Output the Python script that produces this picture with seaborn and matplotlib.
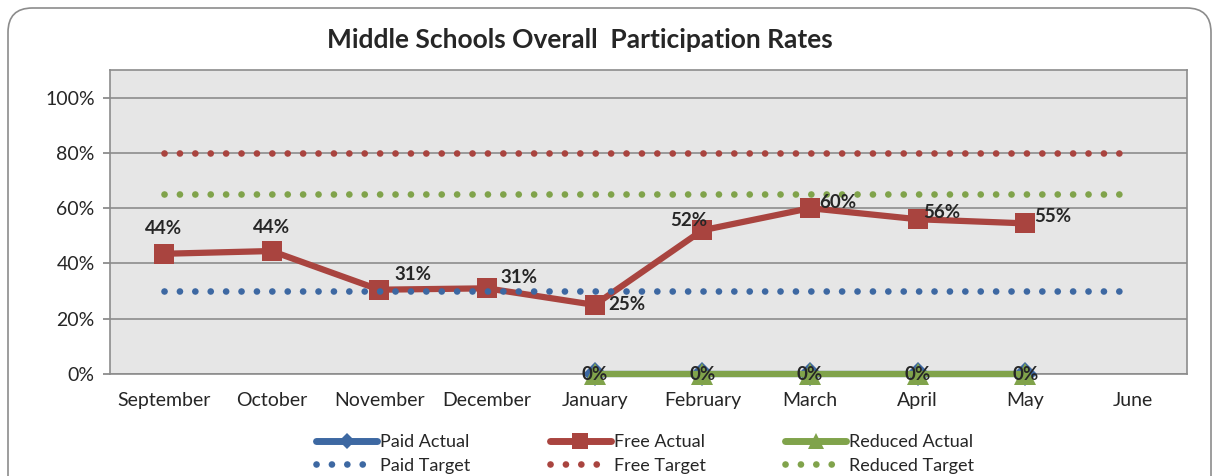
import numpy as np
import pandas as pd
import seaborn as sns
import matplotlib.pyplot as plt
from matplotlib.patches import FancyBboxPatch
from matplotlib.lines import Line2D

months = ["September", "October", "November", "December", "January",
          "February", "March", "April", "May", "June"]
free_actual = [0.435, 0.445, 0.305, 0.31, 0.25, 0.52, 0.60, 0.56, 0.545, np.nan]
free_labels = ["44%", "44%", "31%", "31%", "25%", "52%", "60%", "56%", "55%", None]
paid_actual = [np.nan, np.nan, np.nan, np.nan, 0, 0, 0, 0, 0, np.nan]
reduced_actual = [np.nan, np.nan, np.nan, np.nan, 0, 0, 0, 0, 0, np.nan]
paid_target = [0.30] * 10
free_target = [0.80] * 10
reduced_target = [0.65] * 10

# label offsets in points (styling only)
free_offsets = [(0, 18), (0, 17), (24, 11), (23, 8), (23, 0), (-10, 7),
                (20, 4), (17, 5), (20, 5), None]

BLUE = "#3D68A2"
RED = "#A9443F"
GREEN = "#80A34B"
FONT = ["Lato", "DejaVu Sans"]

sns.set_theme(style="white")
plt.rcParams["font.family"] = FONT

fig = plt.figure(figsize=(12.17, 4.76), dpi=100)
ax = fig.add_axes([110 / 1217, 1 - 374 / 476, (1187 - 110) / 1217, (374 - 70) / 476])
ax.set_facecolor("#E6E6E6")

x = np.arange(len(months))
df = pd.DataFrame({"x": x, "paid_actual": paid_actual, "free_actual": free_actual,
                   "reduced_actual": reduced_actual, "paid_target": paid_target,
                   "free_target": free_target, "reduced_target": reduced_target})

sns.lineplot(data=df, x="x", y="paid_actual", ax=ax, color=BLUE, lw=4.5,
             marker="D", markersize=12, markeredgewidth=0, zorder=3, clip_on=False)
sns.lineplot(data=df, x="x", y="free_actual", ax=ax, color=RED, lw=4.5,
             marker="s", markersize=15, markeredgewidth=0, zorder=3)
sns.lineplot(data=df, x="x", y="reduced_actual", ax=ax, color=GREEN, lw=4.5,
             marker="^", markersize=16, markeredgewidth=0, zorder=4, clip_on=False)

dot = (0, (0.01, 2.3))
for col, c in [("paid_target", BLUE), ("free_target", RED), ("reduced_target", GREEN)]:
    sns.lineplot(data=df, x="x", y=col, ax=ax, color=c, lw=4.8, zorder=5)
    line = ax.lines[-1]
    line.set_linestyle(dot)
    line.set_dash_capstyle("round")

for xi, v, lab, off in zip(x, free_actual, free_labels, free_offsets):
    if lab is None:
        continue
    ax.annotate(lab, (xi, v), xytext=off, textcoords="offset points",
                ha="center", va="center", fontsize=13.5, fontweight="bold", zorder=6)
for xi, v in zip(x, reduced_actual):
    if np.isnan(v):
        continue
    ax.annotate("0%", (xi, v), xytext=(0, 0), textcoords="offset points",
                ha="center", va="center", fontsize=13.5, fontweight="bold", zorder=6,
                annotation_clip=False)

ax.set_xlim(-0.5, 9.5)
ax.set_ylim(0, 1.1)
ax.set_yticks(np.arange(0, 1.01, 0.2))
ax.set_yticklabels([f"{int(round(t * 100))}%" for t in np.arange(0, 1.01, 0.2)], fontsize=14)
ax.set_xticks(x)
ax.set_xticklabels(months, fontsize=14)
ax.set_xticks(np.arange(-0.5, 10, 1), minor=True)
ax.tick_params(axis="x", which="major", length=0, pad=13)
ax.tick_params(axis="x", which="minor", length=5, color="#888888", direction="out")
ax.tick_params(axis="y", length=5, color="#888888", direction="out", left=True, pad=6)
ax.yaxis.grid(True, color="#8C8C8C", lw=1.2)
ax.set_axisbelow(True)
for s in ax.spines.values():
    s.set_color("#8C8C8C")
    s.set_linewidth(1.2)
ax.set_xlabel("")
ax.set_ylabel("")

fig.text(580 / 1217, 1 - 40 / 476, "Middle Schools Overall  Participation Rates",
         ha="center", va="center", fontsize=19, fontweight="bold")

handles = [
    Line2D([], [], color=BLUE, lw=5, marker="D", markersize=8, markeredgewidth=0, solid_capstyle="round"),
    Line2D([], [], color=BLUE, lw=4.8, ls=dot, dash_capstyle="round"),
    Line2D([], [], color=RED, lw=5, marker="s", markersize=11, markeredgewidth=0, solid_capstyle="round"),
    Line2D([], [], color=RED, lw=4.8, ls=dot, dash_capstyle="round"),
    Line2D([], [], color=GREEN, lw=5, marker="^", markersize=11, markeredgewidth=0, solid_capstyle="round"),
    Line2D([], [], color=GREEN, lw=4.8, ls=dot, dash_capstyle="round"),
]
labels = ["Paid Actual", "Paid Target", "Free Actual", "Free Target",
          "Reduced Actual", "Reduced Target"]
fig.legend(handles, labels, loc="center", bbox_to_anchor=(645 / 1217, 1 - 454 / 476),
           ncol=3, frameon=False, fontsize=13, handlelength=3.4, handletextpad=0.15,
           columnspacing=4.4, labelspacing=0.4)

fig.patches.append(FancyBboxPatch((8 / 1217, -0.05), 1203 / 1217, 1.05 - 8 / 476,
                                  boxstyle="round,pad=0,rounding_size=0.02",
                                  transform=fig.transFigure, fill=False,
                                  edgecolor="#8C8C8C", lw=1.2, mutation_aspect=1217 / 476))

fig.savefig("out.png", dpi=100)
